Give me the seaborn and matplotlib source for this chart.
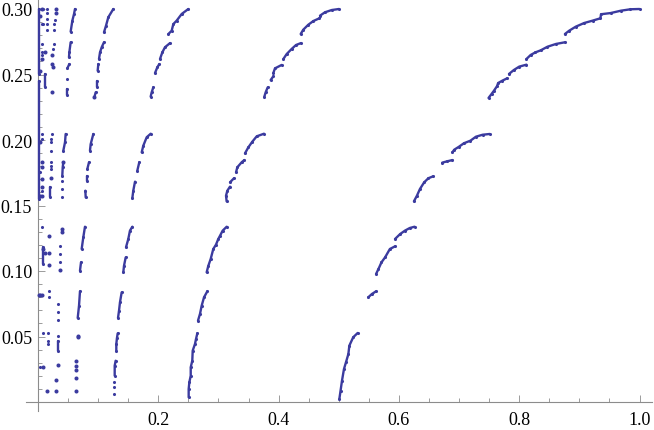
import matplotlib
matplotlib.use("Agg")
import matplotlib.pyplot as plt
import numpy as np
import pandas as pd
import seaborn as sns
from matplotlib.ticker import FixedLocator, FixedFormatter

# nan = gap between two runs of points
BR = np.nan

arc_1_x = [0.749, 0.754, 0.758, 0.763, 0.765, 0.772, 0.780, BR, 0.783, 0.791, 0.800, 0.812, BR,
           0.812, 0.819, 0.827, 0.836, 0.847, 0.861, 0.876, BR,
           0.876, 0.883, 0.894, 0.908, 0.922, 0.935, 0.936, 0.952, 0.969, 0.985, 1.0, BR,
           0.672, 0.680, 0.689, BR,
           0.689, 0.692, 0.700, 0.708, 0.719, 0.728, 0.739, 0.751]
arc_1_y = [0.2321, 0.2351, 0.2376, 0.2410, 0.2435, 0.2453, 0.2471, BR, 0.2504, 0.2534, 0.2560, 0.2575, BR,
           0.2618, 0.2649, 0.2669, 0.2685, 0.2712, 0.2733, 0.2746, BR,
           0.2809, 0.2834, 0.2865, 0.2893, 0.2911, 0.2929, 0.2960, 0.2969, 0.2987, 0.2998, 0.3000, BR,
           0.1827, 0.1837, 0.1847, BR,
           0.1906, 0.1926, 0.1949, 0.1975, 0.1995, 0.2025, 0.2040, 0.2046]

arc_2_x = [0.625, 0.630, 0.635, 0.642, 0.649, 0.657, BR,
           0.562, 0.566, 0.571, 0.577, 0.585, 0.5935, BR,
           0.5935, 0.602, 0.610, 0.618, 0.626, BR,
           0.549, 0.555, 0.562, BR,
           0.501, 0.503, 0.5054, 0.5087, 0.512, 0.516, 0.5176, 0.524, 0.5315]
arc_2_y = [0.1532, 0.1575, 0.1626, 0.1677, 0.1708, 0.1723, BR,
           0.0977, 0.1015, 0.1066, 0.1104, 0.1168, 0.1188, BR,
           0.1244, 0.1282, 0.1308, 0.1328, 0.1338, BR,
           0.0799, 0.0824, 0.0845, BR,
           0.0023, 0.0086, 0.0163, 0.0252, 0.0303, 0.0366, 0.0430, 0.0494, 0.0527]

arc_3_x = [0.4367, 0.441, 0.4494, 0.4577, 0.4677, BR, 0.4688, 0.4771, 0.4882, 0.5004, BR,
           0.4079, 0.4134, 0.4217, 0.4289, 0.4372, BR,
           0.3868, 0.3912, BR, 0.3912, 0.394, 0.4051, BR,
           0.3763, 0.3785, 0.3819, BR,
           0.3136, 0.3126, 0.3148, 0.3192, BR, 0.3192, 0.3258, BR,
           0.3292, 0.3314, 0.3386, 0.343, BR,
           0.3441, 0.3497, 0.3563, 0.3636, 0.3757]
arc_3_y = [0.2809, 0.2842, 0.2880, 0.2908, 0.2929, BR, 0.2949, 0.2975, 0.2992, 0.3000, BR,
           0.2618, 0.2656, 0.2695, 0.2725, 0.2740, BR,
           0.2458, 0.2486, BR, 0.2511, 0.2547, 0.2573, BR,
           0.2331, 0.2364, 0.2402, BR,
           0.1532, 0.1575, 0.1613, 0.1644, BR, 0.1677, 0.1708, BR,
           0.1753, 0.1792, 0.1830, 0.1847, BR,
           0.1898, 0.1944, 0.1987, 0.2028, 0.2048]

arc_4_x = [0.2804, 0.2832, 0.2871, 0.2914, 0.2959, 0.2997, 0.3026, 0.3070, 0.3137, BR,
           0.266, 0.2693, 0.2721, 0.276, 0.2815, BR,
           0.2505, 0.2505, 0.2516, 0.2539, 0.2539, 0.2565, 0.2572, 0.261, 0.2627, 0.2649]
arc_4_y = [0.0990, 0.1040, 0.1092, 0.1168, 0.1201, 0.1244, 0.1269, 0.1308, 0.1338, BR,
           0.0621, 0.0672, 0.0735, 0.0799, 0.0845, BR,
           0.0036, 0.0099, 0.0150, 0.0201, 0.0265, 0.0315, 0.0392, 0.0443, 0.0481, 0.0524]

arc_5_x = [0.2167, 0.2222, 0.225, 0.2305, 0.2389, 0.2499, BR,
           0.2028, 0.2067, 0.2111, 0.2195, BR,
           0.1945, 0.1984, 0.2017, BR,
           0.1873, 0.189, 0.1917, BR,
           0.1568, 0.1584, 0.1613, BR, 0.1651, 0.1684, BR,
           0.1724, 0.1751, 0.1807, 0.1874, BR,
           0.1418, 0.143, 0.1458, BR, 0.1463, 0.1501, 0.1529, 0.1568, BR,
           0.133, 0.1347, 0.1363, 0.1391, BR,
           0.1275, 0.1275, 0.1291, BR, 0.1302, 0.1302, 0.1313, 0.1325]
arc_5_y = [0.2809, 0.2834, 0.2885, 0.2911, 0.2962, 0.3000, BR,
           0.2618, 0.2669, 0.2708, 0.2740, BR,
           0.2511, 0.2555, 0.2580, BR,
           0.2331, 0.2364, 0.2402, BR,
           0.1555, 0.1613, 0.1682, BR, 0.1766, 0.1830, BR,
           0.1906, 0.1957, 0.2021, 0.2048, BR,
           0.0990, 0.1040, 0.1104, BR, 0.1181, 0.1244, 0.1308, 0.1338, BR,
           0.0641, 0.0697, 0.0761, 0.0837, BR,
           0.0201, 0.0277, 0.0315, BR, 0.0392, 0.0443, 0.0489, 0.0524]

arc_6_x = [0.1097, 0.1131, 0.1169, 0.1252, BR,
           0.1014, 0.1031, 0.1059, 0.1097, BR,
           0.0992, 0.1003, BR,
           0.0975, 0.0975, BR,
           0.0937, 0.0959, BR,
           0.0793, 0.0787, BR, 0.082, 0.082, BR, 0.082, 0.0848, BR,
           0.0864, 0.0876, 0.092, BR,
           0.0698, 0.0715, BR, 0.0726, 0.0753, 0.0781, BR,
           0.066, 0.0682, 0.0698]
arc_6_y = [0.2822, 0.2873, 0.2937, 0.3000, BR,
           0.2618, 0.2669, 0.2708, 0.2746, BR,
           0.2529, 0.2580, BR,
           0.2402, 0.2453, BR,
           0.2326, 0.2364, BR,
           0.1562, 0.1613, BR, 0.1689, 0.1728, BR, 0.1779, 0.1830, BR,
           0.1919, 0.1969, 0.2046, BR,
           0.1002, 0.1066, BR, 0.1168, 0.1257, 0.1338, BR,
           0.0641, 0.0735, 0.0845]

arc_7_x = [0.0543, 0.0571, 0.0599, 0.0615, BR,
           0.0515, 0.0521, 0.0543, BR,
           0.0488, 0.0521, BR,
           0.0421, 0.0449, 0.046, BR,
           0.0404, 0.0411, 0.0421]
arc_7_y = [0.2827, 0.2911, 0.2962, 0.3000, BR,
           0.2631, 0.2669, 0.2746, BR,
           0.2547, 0.2580, BR,
           0.1919, 0.1982, 0.2046, BR,
           0.1728, 0.1792, 0.1830]

# the thick run that hugs the vertical axis, and the short runs beside it
near_axis_x = [0.001, 0.001, BR, 0.001, 0.001, BR, 0.0116, 0.0116, BR, 0.0078, 0.0078, BR,
               0.02, 0.02, BR, 0.0477, 0.0477, BR, 0.0327, 0.0327]
near_axis_y = [0.3000, 0.2505, BR, 0.2450, 0.1550, BR, 0.2504, 0.2402, BR, 0.1181, 0.1053, BR,
               0.1639, 0.1562, BR, 0.2389, 0.2344, BR, 0.0468, 0.0387]

dots_x = [0.0393, 0.0393, 0.0393, 0.0366, 0.0366, 0.0366, 0.0366, 0.0338, 0.0338, 0.0338,
          0.0338, 0.0488, 0.0271, 0.0271, 0.0283, 0.0266, 0.0255, 0.0227, 0.0211, 0.0211,
          0.0211, 0.0211, 0.0211, 0.0211, 0.0183, 0.0183, 0.0183, 0.0161, 0.0161, 0.0161,
          0.0144, 0.0144, 0.0144, 0.0144, 0.0144, 0.0089, 0.0089, 0.0061, 0.0061, 0.0061, 0.0072,
          0.0072, 0.0061, 0.0061, 0.0072, 0.0033, 0.0061, 0.0072, 0.0061, 0.0033, 0.0033,
          0.0089, 0.0033, 0.0022, 0.0072, 0.1258, 0.1269, 0.1269]
dots_y = [0.1689, 0.1626, 0.1562, 0.1193, 0.1130, 0.1066, 0.1008, 0.0748, 0.0685, 0.0626,
          0.0506, 0.2466, 0.2885, 0.2842, 0.2918, 0.2733, 0.2695, 0.2046, 0.2008, 0.1982,
          0.1919, 0.1834, 0.1800, 0.1779, 0.1269, 0.0845, 0.0799, 0.0524, 0.0468, 0.0443,
          0.3000, 0.2969, 0.2923, 0.2885, 0.2842, 0.3000, 0.2885, 0.2885, 0.2733, 0.2669, 0.2649,
          0.2046, 0.2008, 0.1834, 0.1796, 0.1753, 0.1702, 0.1639, 0.1613, 0.1575, 0.2529,
          0.0524, 0.0269, 0.0817, 0.1334, 0.0061, 0.0112, 0.0150]

blobs_x = [0.0299, 0.0299, 0.0238, 0.0244, 0.0227, 0.0211, 0.0183, 0.0183, 0.0183, 0.0393,
           0.0393, 0.0366, 0.0327, 0.0299, 0.0299, 0.015, 0.0665, 0.0665, 0.0632, 0.0632, 0.0632,
           0.0632, 0.0632, 0.0116, 0.0061, 0.0033, 0.0033, 0.0061, 0.0061, 0.0033, 0.0061,
           0.0061, 0.0033, 0.0061, 0.0078, 0.0072, 0.0116, 0.0061, 0.0033, 0.0022, 0.0078,
           0.0421, 0.0238, 0.0934]
blobs_y = [0.3000, 0.2969, 0.2649, 0.2555, 0.2580, 0.1710, 0.1137, 0.1048, 0.1269, 0.1321,
           0.1295, 0.1008, 0.0285, 0.0170, 0.0082, 0.0082, 0.0501, 0.0495, 0.0082, 0.0183, 0.0244,
           0.0277, 0.0315, 0.2669, 0.3000, 0.2949, 0.2529, 0.1796, 0.1702, 0.1575, 0.1575,
           0.1639, 0.1982, 0.1830, 0.1168, 0.2620, 0.1137, 0.0817, 0.0817, 0.0817, 0.0269,
           0.1830, 0.2364, 0.2326]

x_major = [0.2, 0.4, 0.6, 0.8, 1.0]
x_major_labels = ["0.2", "0.4", "0.6", "0.8", "1.0"]
x_minor = [0.05, 0.1, 0.15, 0.25, 0.3, 0.35, 0.45, 0.5, 0.55, 0.65, 0.7, 0.75, 0.85, 0.9, 0.95]
y_major = [0.05, 0.10, 0.15, 0.20, 0.25, 0.30]
y_major_labels = ["0.05", "0.10", "0.15", "0.20", "0.25", "0.30"]
y_minor = [0.01, 0.02, 0.03, 0.04, 0.06, 0.07, 0.08, 0.09, 0.11, 0.12, 0.13, 0.14, 0.16, 0.17,
           0.18, 0.19, 0.21, 0.22, 0.23, 0.24, 0.26, 0.27, 0.28, 0.29]

POINT_COLOR = "#3b3b9f"
AXIS_COLOR = "#8c8c8c"


def runs_frame(xs, ys, name):
    df = pd.DataFrame({"x": xs, "y": ys})
    df["run"] = name + "_" + df["x"].isna().cumsum().astype(str)
    return df.dropna()


sns.set_style("white")
plt.rcParams["font.family"] = ["Liberation Serif", "DejaVu Serif"]

fig = plt.figure(figsize=(6.54, 4.31), dpi=100)
ax = fig.add_axes([0, 0, 1, 1])

arcs = pd.concat([
    runs_frame(arc_1_x, arc_1_y, "a1"),
    runs_frame(arc_2_x, arc_2_y, "a2"),
    runs_frame(arc_3_x, arc_3_y, "a3"),
    runs_frame(arc_4_x, arc_4_y, "a4"),
    runs_frame(arc_5_x, arc_5_y, "a5"),
    runs_frame(arc_6_x, arc_6_y, "a6"),
    runs_frame(arc_7_x, arc_7_y, "a7"),
    runs_frame(near_axis_x, near_axis_y, "axis"),
], ignore_index=True)

# zorder above the spines, the run at x~0 has to cover the axis line
sns.lineplot(data=arcs, x="x", y="y", units="run", estimator=None, sort=False,
             color=POINT_COLOR, lw=1.7, solid_capstyle="round", legend=False, zorder=4, ax=ax)
sns.scatterplot(data=arcs, x="x", y="y", color=POINT_COLOR, s=5, linewidth=0, legend=False, zorder=4, ax=ax)
sns.scatterplot(x=dots_x, y=dots_y, color=POINT_COLOR, s=5, linewidth=0, legend=False, zorder=4, ax=ax)
sns.scatterplot(x=blobs_x, y=blobs_y, color=POINT_COLOR, s=8.5, linewidth=0, legend=False, zorder=4, ax=ax)

# pixel scale of the reference: 601.5 px per x unit, 1310 px per y unit
ax.set_xlim(-38 / 601.5, 616 / 601.5)
ax.set_ylim(-28 / 1310, 403 / 1310)
ax.set_xlabel("")
ax.set_ylabel("")

ax.patch.set_visible(False)
for side in ["top", "right"]:
    ax.spines[side].set_visible(False)
ax.spines["left"].set_position(("data", 0))
ax.spines["bottom"].set_position(("data", 0))
ax.spines["left"].set_bounds(-0.007, 403 / 1310)
ax.spines["bottom"].set_bounds(-0.02, 1.021)
for side in ["left", "bottom"]:
    ax.spines[side].set_visible(True)
    ax.spines[side].set_color(AXIS_COLOR)
    ax.spines[side].set_linewidth(0.8)

ax.xaxis.set_major_locator(FixedLocator(x_major))
ax.xaxis.set_major_formatter(FixedFormatter(x_major_labels))
ax.xaxis.set_minor_locator(FixedLocator(x_minor))
ax.yaxis.set_major_locator(FixedLocator(y_major))
ax.yaxis.set_major_formatter(FixedFormatter(y_major_labels))
ax.yaxis.set_minor_locator(FixedLocator(y_minor))

ax.tick_params(which="major", direction="in", length=5.2, width=0.6, color=AXIS_COLOR,
               labelsize=13, labelcolor="black", left=True, bottom=True)
ax.tick_params(axis="x", which="major", pad=6.5)
ax.tick_params(axis="y", which="major", pad=4.2)
ax.tick_params(which="minor", direction="in", length=3.0, width=0.6, color=AXIS_COLOR,
               left=True, bottom=True)

fig.savefig("out.png", dpi=100)
